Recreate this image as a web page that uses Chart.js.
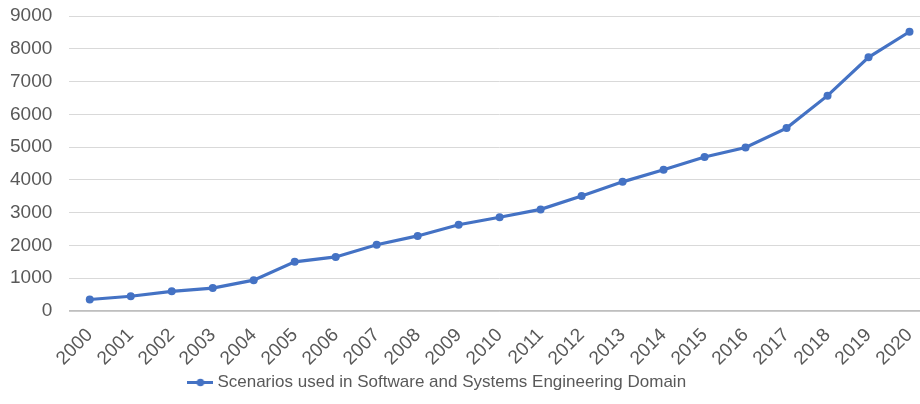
<!DOCTYPE html>
<html>
<head>
<meta charset="utf-8">
<script src="https://cdn.jsdelivr.net/npm/chart.js@4/dist/chart.umd.min.js"></script>
<style>
  html, body { margin: 0; padding: 0; background: #fff; overflow: hidden; }
  #wrap { width: 934px; height: 404px; }
</style>
</head>
<body>
<div id="wrap"><canvas id="chart" width="934" height="404"></canvas></div>
<script>
const years = ['2000', '2001', '2002', '2003', '2004', '2005', '2006', '2007', '2008', '2009',
               '2010', '2011', '2012', '2013', '2014', '2015', '2016', '2017', '2018', '2019', '2020'];
const scenarios = [350, 450, 600, 700, 940, 1500, 1650, 2020, 2290, 2630,
                   2860, 3100, 3510, 3940, 4310, 4700, 4990, 5580, 6570, 7740, 8520];
const seriesName = 'Scenarios used in Software and Systems Engineering Domain';

const blue = '#4472C4';
const textGray = '#595959';

// legend icon: short line with a dot in the middle
function legendIcon() {
    const c = document.createElement('canvas');
    c.width = 26;
    c.height = 9;
    const g = c.getContext('2d');
    g.strokeStyle = blue;
    g.lineWidth = 3;
    g.beginPath();
    g.moveTo(0, 4.5);
    g.lineTo(26, 4.5);
    g.stroke();
    g.fillStyle = blue;
    g.beginPath();
    g.arc(13, 4.5, 3.8, 0, Math.PI * 2);
    g.fill();
    return c;
}

// the legend sits a little left of centre in the original
const legendShift = {
    id: 'legendShift',
    afterLayout(chart) {
        chart.legend.left -= 33;
        chart.legend.right -= 33;
    }
};

Chart.defaults.font.family = '"Liberation Sans", Arial, sans-serif';
Chart.defaults.color = textGray;

new Chart(document.getElementById('chart'), {
    type: 'line',
    data: {
        labels: years,
        datasets: [{
            label: seriesName,
            data: scenarios,
            borderColor: blue,
            backgroundColor: blue,
            borderWidth: 3.2,
            pointRadius: 4,
            pointBackgroundColor: blue,
            pointBorderWidth: 0,
            tension: 0
        }]
    },
    options: {
        responsive: false,
        animation: false,
        layout: { padding: { left: 10, top: 16, right: 0, bottom: 3 } },
        scales: {
            x: {
                offset: true,
                grid: { display: false, drawTicks: false },
                border: { color: '#bfbfbf', width: 1.5 },
                ticks: {
                    font: { size: 19 },
                    color: textGray,
                    minRotation: 45,
                    maxRotation: 45,
                    autoSkip: false,
                    padding: 13
                },
                // rotated labels may hang past the plot and into the legend gap
                afterFit: function(scale) {
                    scale.paddingLeft = 0;
                    scale.paddingRight = 0;
                    scale.height = 57;
                }
            },
            y: {
                min: 0,
                max: 9000,
                grid: { color: '#d9d9d9', lineWidth: 1, drawTicks: false },
                border: { display: false },
                ticks: {
                    stepSize: 1000,
                    font: { size: 19 },
                    color: textGray,
                    padding: 17,
                    callback: function(value) {
                        return String(value);
                    }
                },
                afterFit: function(scale) {
                    // chart.js counts tick padding twice in the axis width
                    scale.width -= 17;
                    scale.paddingTop = 0;
                    scale.paddingBottom = 0;
                }
            }
        },
        plugins: {
            legend: {
                position: 'bottom',
                labels: {
                    usePointStyle: true,
                    pointStyle: legendIcon(),
                    font: { size: 17 },
                    color: textGray,
                    padding: 6
                }
            },
            tooltip: { enabled: false }
        }
    },
    plugins: [legendShift]
});
</script>
</body>
</html>
